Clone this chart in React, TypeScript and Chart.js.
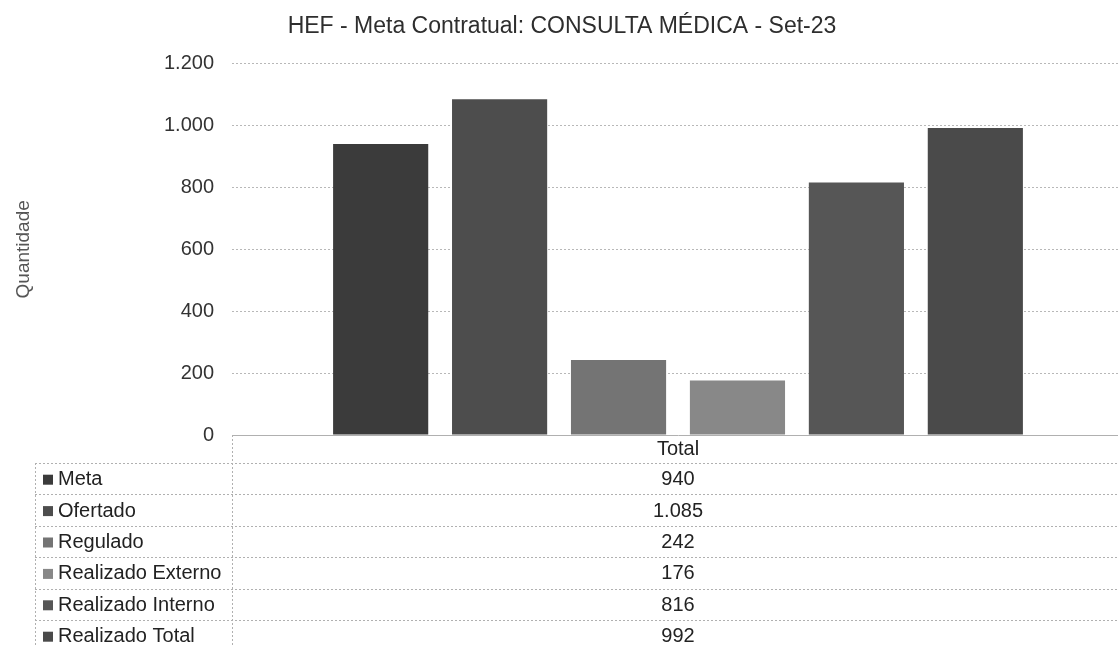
import React, { useEffect, useRef } from "react";
import { Chart, registerables } from "chart.js";

Chart.register(...registerables);

const titleText = "HEF - Meta Contratual: CONSULTA MÉDICA - Set-23";
const yAxisTitle = "Quantidade";
const categories = ["Total"];
const seriesNames = ["Meta", "Ofertado", "Regulado", "Realizado Externo", "Realizado Interno", "Realizado Total"];
const seriesValues = [940, 1085, 242, 176, 816, 992];
const seriesColors = ["#3b3b3b", "#4d4d4d", "#747474", "#888888", "#565656", "#4a4a4a"];
const yMax = 1200;
const yStep = 200;

const FONT = "'Liberation Sans', Arial, sans-serif";

function fmt(v: number): string {
  const s = Math.round(Math.abs(v)).toString();
  const out = s.replace(/\B(?=(\d{3})+(?!\d))/g, ".");
  return (v < 0 ? "-" : "") + out;
}

const tablePlugin = {
  id: "dataTable",
  afterDraw(chart: any) {
    const ctx = chart.ctx as CanvasRenderingContext2D;
    const area = chart.chartArea;
    const W = chart.width;
    const tableLeft = 35;
    const headerBottom = area.bottom + 28;
    const rowH = 31.4;
    ctx.save();
    ctx.strokeStyle = "#b0b0b0";
    ctx.lineWidth = 1;
    ctx.setLineDash([2, 2]);
    ctx.beginPath();
    ctx.moveTo(Math.round(area.left) + 0.5, area.bottom);
    ctx.lineTo(Math.round(area.left) + 0.5, chart.height + 20);
    ctx.stroke();
    ctx.beginPath();
    ctx.moveTo(tableLeft + 0.5, headerBottom);
    ctx.lineTo(tableLeft + 0.5, chart.height + 20);
    ctx.stroke();
    for (let i = 0; i <= seriesNames.length; i++) {
      const y = Math.round(headerBottom + i * rowH) + 0.5;
      ctx.beginPath();
      ctx.moveTo(tableLeft, y);
      ctx.lineTo(W, y);
      ctx.stroke();
    }
    ctx.setLineDash([]);
    ctx.font = `20px ${FONT}`;
    ctx.textBaseline = "middle";
    const xCenter = chart.scales.x.getPixelForValue(0);
    chart.data.datasets.forEach((ds: any, i: number) => {
      const yMid = headerBottom + i * rowH + rowH / 2 + 1;
      ctx.fillStyle = ds.backgroundColor;
      ctx.fillRect(tableLeft + 8, yMid - 5, 10, 10);
      ctx.fillStyle = "#222";
      ctx.textAlign = "left";
      ctx.fillText(ds.label, tableLeft + 23, yMid);
      ctx.textAlign = "center";
      ctx.fillText(fmt(ds.data[0]), xCenter, yMid);
    });
    ctx.restore();
  },
};

export default function App() {
  const ref = useRef<HTMLCanvasElement>(null);
  useEffect(() => {
    if (!ref.current) return;
    const chart = new Chart(ref.current, {
      type: "bar",
      data: {
        labels: categories,
        datasets: seriesNames.map((name, i) => ({
          label: name,
          data: [seriesValues[i]],
          backgroundColor: seriesColors[i],
          borderWidth: 0,
          categoryPercentage: 0.8,
          barPercentage: 0.8,
        })),
      },
      options: {
        animation: false,
        responsive: true,
        maintainAspectRatio: false,
        layout: { padding: { left: 0, right: 0, top: 0, bottom: 0 } },
        plugins: {
          legend: { display: false },
          tooltip: { enabled: false },
          title: {
            display: true,
            text: titleText,
            color: "#2e2e2e",
            font: { family: FONT, size: 23, weight: "normal" },
            padding: { top: 13, bottom: 23 },
          },
        },
        scales: {
          x: {
            grid: { display: false, drawTicks: false },
            border: { display: true, color: "#b0b0b0", dash: [2, 2] },
            ticks: { color: "#222", font: { family: FONT, size: 20 }, padding: 2 },
            afterFit: (scale: any) => {
              scale.height = 210;
            },
          },
          y: {
            min: 0,
            max: yMax,
            ticks: {
              stepSize: yStep,
              color: "#333",
              font: { family: FONT, size: 20 },
              padding: 18,
              callback: (v: any) => fmt(Number(v)),
            },
            grid: { color: "#b8b8b8", drawTicks: false, tickBorderDash: [2, 2] },
            border: { display: false, dash: [2, 2] },
            title: {
              display: true,
              text: yAxisTitle,
              color: "#555",
              font: { family: FONT, size: 19 },
              padding: { top: 12, bottom: 0 },
            },
            afterFit: (scale: any) => {
              scale.width = 232;
            },
          },
        },
      },
      plugins: [tablePlugin],
    });
    return () => chart.destroy();
  }, []);
  return (
    <div style={{ position: "fixed", left: 0, top: 0, width: 1118, height: 645, overflow: "hidden", background: "#fff" }}>
      <div style={{ position: "relative", width: 1124, height: 645 }}>
        <canvas ref={ref} />
      </div>
    </div>
  );
}
